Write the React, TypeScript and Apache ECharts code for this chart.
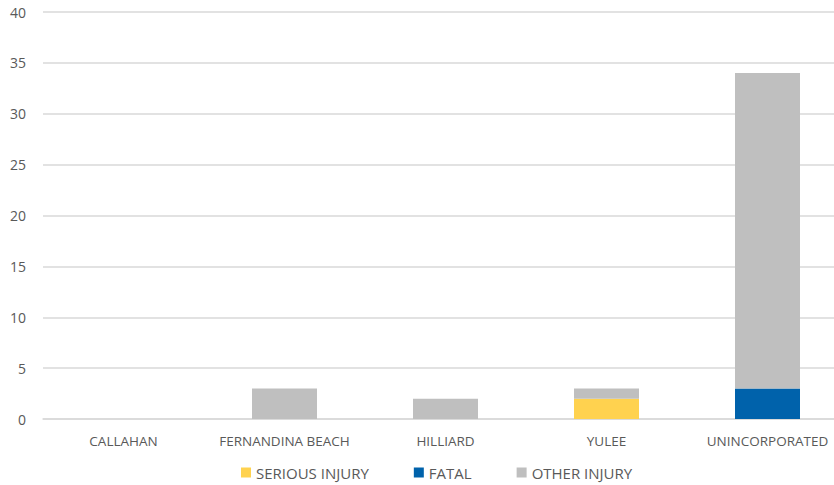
import React, { useEffect, useRef } from "react";
import * as echarts from "echarts";

const categories = ["CALLAHAN", "FERNANDINA BEACH", "HILLIARD", "YULEE", "UNINCORPORATED"];
const seriousInjury = [0, 0, 0, 2, 0];
const fatal = [0, 0, 0, 0, 3];
const otherInjury = [0, 3, 2, 1, 31];

const FONT = "'Open Sans', 'Noto Sans', sans-serif";

export default function App() {
  const ref = useRef<HTMLDivElement>(null);
  useEffect(() => {
    const chart = echarts.init(ref.current!, null, { renderer: "svg" });
    chart.setOption({
      animation: false,
      textStyle: { fontFamily: FONT },
      grid: { left: 43, right: 0, top: 12, bottom: 66, containLabel: false },
      legend: {
        bottom: 0,
        left: 236,
        itemWidth: 10,
        itemHeight: 10,
        itemGap: 45,
        icon: "rect",
        textStyle: { color: "#595959", fontSize: 15, fontFamily: FONT },
        data: ["SERIOUS INJURY", "FATAL", "OTHER INJURY"],
      },
      xAxis: {
        type: "category",
        data: categories,
        axisLine: { lineStyle: { color: "#d9d9d9", width: 1.5 } },
        axisTick: { show: false },
        axisLabel: { color: "#595959", fontSize: 13.5, margin: 15, interval: 0, fontFamily: FONT },
      },
      yAxis: {
        type: "value",
        min: 0,
        max: 40,
        interval: 5,
        axisLine: { show: false },
        axisTick: { show: false },
        splitLine: { lineStyle: { color: "#d9d9d9", width: 1.5 } },
        axisLabel: { color: "#595959", fontSize: 14, margin: 17, fontFamily: FONT },
      },
      series: [
        { name: "SERIOUS INJURY", type: "bar", stack: "a", data: seriousInjury, barWidth: 65, itemStyle: { color: "#FFD24F" } },
        { name: "FATAL", type: "bar", stack: "a", data: fatal, barWidth: 65, itemStyle: { color: "#0062AB" } },
        { name: "OTHER INJURY", type: "bar", stack: "a", data: otherInjury, barWidth: 65, itemStyle: { color: "#BFBFBF" } },
      ],
    });
    return () => chart.dispose();
  }, []);
  return (
    <div style={{ width: 834, height: 485, position: "absolute", left: 0, top: 0, overflow: "hidden" }}>
      <div ref={ref} style={{ width: 848, height: 485 }} />
    </div>
  );
}
